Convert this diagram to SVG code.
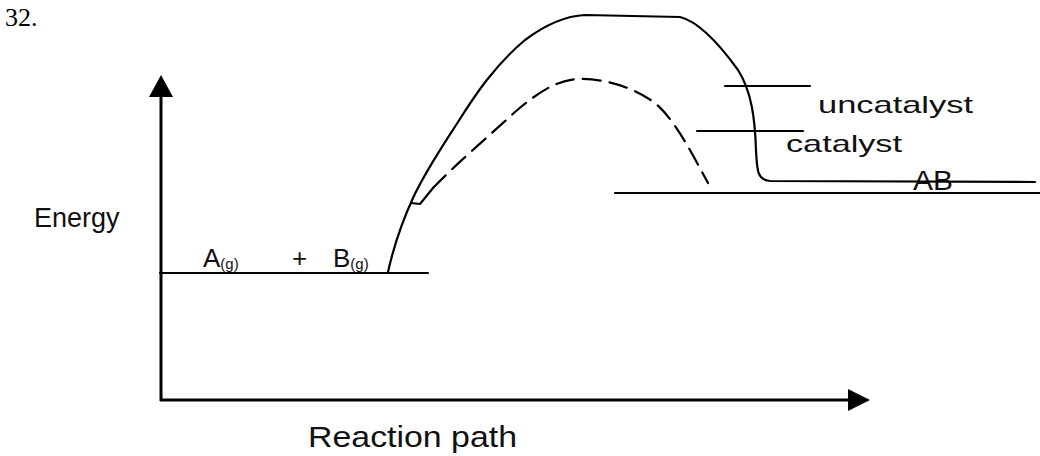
<svg xmlns="http://www.w3.org/2000/svg" width="1040" height="456" viewBox="0 0 1040 456">
<style>
.ln{fill:none;stroke:#000;stroke-width:2.2;stroke-linejoin:round;stroke-linecap:round}
.ax{fill:none;stroke:#000;stroke-width:3}
.t{font-family:"Liberation Sans",Arial,sans-serif;fill:#111}
.dash{stroke-dasharray:18 9}
</style>
<rect width="1040" height="456" fill="#fff"/>
<text x="5" y="26" font-family="Liberation Serif,serif" font-size="26" fill="#000">32.</text>
<g id="axes">
<line class="ax" x1="161" y1="94" x2="161" y2="401"/>
<polygon points="161,75 149,97 173,97" fill="#000"/>
<line class="ax" x1="160" y1="400" x2="852" y2="400"/>
<polygon points="870,400 848,389 848,411" fill="#000"/>
</g>
<g id="axis-labels">
<text class="t" x="34" y="227" font-size="27">Energy</text>
<text class="t" x="308" y="447" font-size="29" textLength="209" lengthAdjust="spacingAndGlyphs">Reaction path</text>
</g>
<g id="reactants">
<line class="ln" x1="160" y1="273" x2="428" y2="273"/>
<text class="t" x="203" y="267" font-size="26">A<tspan font-size="15" dy="2">(g)</tspan></text>
<text class="t" x="292" y="267" font-size="26">+</text>
<text class="t" x="333" y="267" font-size="26">B<tspan font-size="15" dy="2">(g)</tspan></text>
</g>
<g id="products">
<line class="ln" x1="615" y1="193" x2="1040" y2="193"/>
<text class="t" x="913" y="190" font-size="27" textLength="40" lengthAdjust="spacingAndGlyphs">AB</text>
</g>
<g id="connectors">
<path id="uncatalysed-curve" class="ln" d="M388,272 C394,245 402,222 413,198 C425,172 440,150 458,122 C475,95 495,65 525,40 C545,25 565,16 585,15 L680,17 C700,22 720,45 738,70 C752,92 755,120 756,150 C757,170 757,180 770,181 L1035,182"/>
<polyline id="catalysed-hook" class="ln" points="411,203 420,204 433,188"/>
<path id="catalysed-curve" class="ln dash" d="M433,188 C455,165 490,135 515,112 C535,95 555,80 578,79 C605,78 635,88 655,103 C675,120 690,150 708,183"/>
<line class="ln" x1="725" y1="86" x2="810" y2="86"/>
<line class="ln" x1="697" y1="131" x2="803" y2="131"/>
</g>
<g id="labels">
<text class="t" x="818" y="113" font-size="24" textLength="155" lengthAdjust="spacingAndGlyphs">uncatalyst</text>
<text class="t" x="786" y="152" font-size="24" textLength="116" lengthAdjust="spacingAndGlyphs">catalyst</text>
</g>
</svg>
